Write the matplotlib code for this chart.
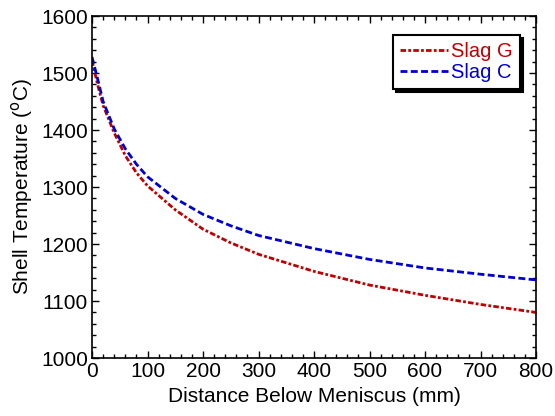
import numpy as np
from matplotlib import pyplot as plt

plt.rcParams['font.family'] = ['Liberation Sans', 'DejaVu Sans']

# distance below meniscus (mm)
dist = [0, 10, 20, 40, 60, 80, 100, 150, 200, 250, 300, 400, 500, 600, 700, 800]
# shell temperature (C)
slag_g = [1522, 1480, 1443, 1395, 1355, 1325, 1302, 1260, 1226, 1202, 1182, 1152, 1128, 1110, 1094, 1080]
slag_c = [1528, 1490, 1450, 1402, 1367, 1340, 1318, 1280, 1252, 1232, 1215, 1192, 1173, 1158, 1147, 1137]

fig = plt.figure(figsize=(5.55, 4.16), dpi=100)
ax = fig.add_axes([0.1658, 0.1394, 0.8, 0.8221])

ax.plot(dist, slag_g, color='#c00000', lw=2, dashes=(2, 0.8, 1, 0.8), label='Slag G')
ax.plot(dist, slag_c, color='#0000d0', lw=2, dashes=(2.5, 1.2), label='Slag C')

ax.set_xlim(0, 800)
ax.set_ylim(1000, 1600)
ax.set_xticks(np.arange(0, 801, 100))
ax.set_yticks(np.arange(1000, 1601, 100))
ax.set_xticks(np.arange(0, 801, 20), minor=True)
ax.set_yticks(np.arange(1000, 1601, 20), minor=True)
ax.tick_params(which='both', direction='in', top=True, right=True, labelsize=15)
ax.tick_params(which='major', length=5, width=1, pad=3)
ax.tick_params(which='minor', length=3, width=1)
for s in ax.spines.values():
    s.set_linewidth(1.2)

ax.set_xlabel('Distance Below Meniscus (mm)', fontsize=15, labelpad=4)
ax.set_ylabel('Shell Temperature ($^{\\rm o}$C)', fontsize=15, labelpad=4)

leg = ax.legend(loc='upper right', bbox_to_anchor=(0.964, 0.944), borderaxespad=0,
                fontsize=14.5, labelcolor='linecolor', handlelength=2.4,
                handletextpad=0.15, fancybox=False, edgecolor='black', framealpha=1,
                shadow={'color': 'black', 'alpha': 1}, borderpad=0.35,
                labelspacing=0.1)
leg.get_frame().set_linewidth(1.5)

fig.savefig('out.png', dpi=100)
